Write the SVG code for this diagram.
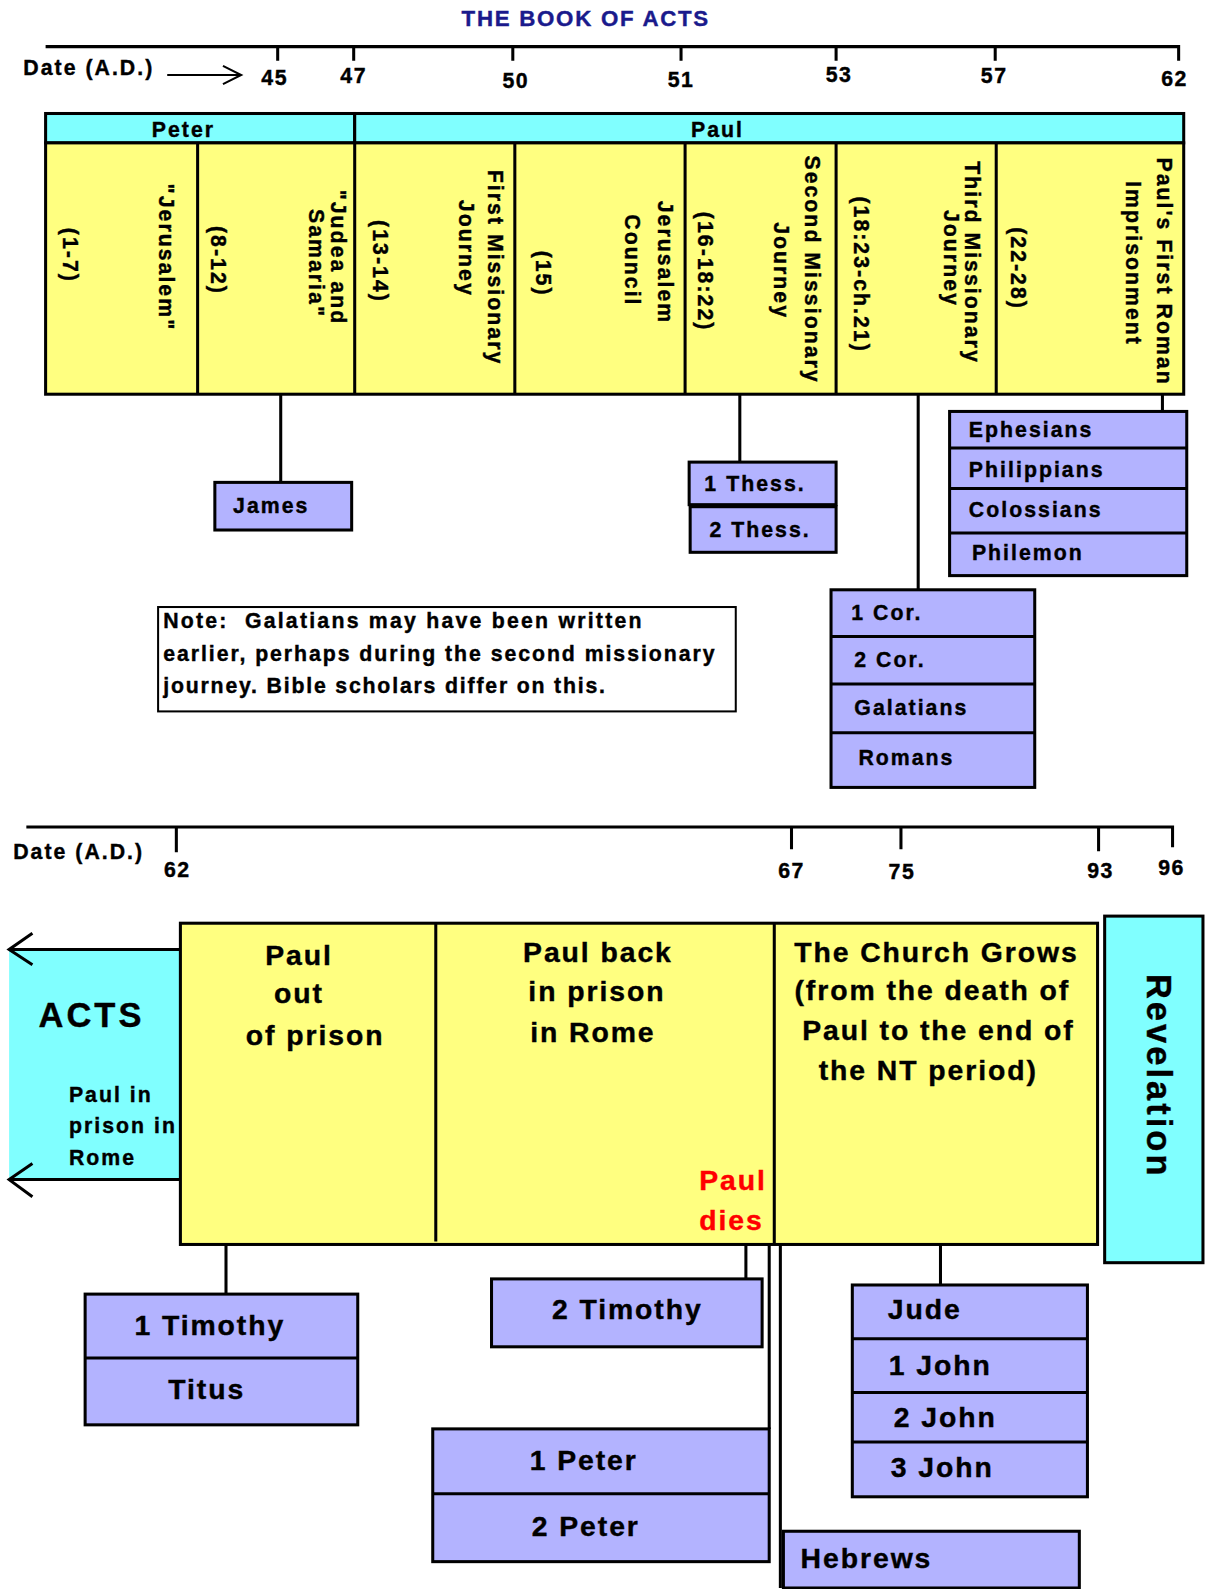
<svg xmlns="http://www.w3.org/2000/svg" width="1206" height="1589" viewBox="0 0 1206 1589">
<style>
text{font-family:"Liberation Sans",Arial,Helvetica,sans-serif;font-weight:bold;fill:#000;stroke:#000;stroke-width:0.4px}
.s{font-size:21px;letter-spacing:2px}
.n{font-size:21px;letter-spacing:1.5px;text-anchor:middle}
.v{font-size:21px;letter-spacing:2px;text-anchor:middle}
.b{font-size:28px;letter-spacing:1.9px}
.c{text-anchor:middle}
.red{fill:#ff0000;stroke:#ff0000}
.ln{stroke:#000;stroke-width:3;fill:none}
.yel{fill:#ffff80;stroke:#000;stroke-width:3}
.cy{fill:#80ffff;stroke:#000;stroke-width:3}
.bk{fill:#b3b3ff;stroke:#000;stroke-width:3}
.note{fill:#fff;stroke:#000;stroke-width:2}
</style>
<rect width="1206" height="1589" fill="#fff"/>
<g transform="scale(1.01345,1.0134)">
<g id="title"><text class="c" x="578" y="26" style="font-size:22px;letter-spacing:1.7px;fill:#1a1a8c;stroke:#1a1a8c">THE BOOK OF ACTS</text></g>

<g id="timeline-top">
<path class="ln" d="M45,46 H1163 V60 M274,46 V60 M349,46 V60 M506,46 V60 M672,46 V60 M825,46 V60 M982,46 V60"/>
<text class="s" x="23" y="74">Date (A.D.)</text>
<path class="ln" style="stroke-width:2" d="M165,74 H238 M220,65 L238,74 L220,83"/>
<text class="n" x="271" y="84">45</text>
<text class="n" x="349" y="82">47</text>
<text class="n" x="509" y="87">50</text>
<text class="n" x="672" y="86">51</text>
<text class="n" x="828" y="81">53</text>
<text class="n" x="981" y="82">57</text>
<text class="n" x="1159" y="85">62</text>
</g>

<g id="header-peter"><rect class="cy" x="45" y="112" width="305" height="29"/><text class="s c" x="181" y="135">Peter</text></g>
<g id="header-paul"><rect class="cy" x="350" y="112" width="818" height="29"/><text class="s c" x="708" y="135">Paul</text></g>

<g id="acts-periods">
<rect class="yel" x="45" y="141" width="1123" height="248"/>
<path class="ln" d="M195,141 V389 M350,141 V389 M508,141 V389 M676,141 V389 M825,141 V389 M983,141 V389"/>
</g>
<g id="col-jerusalem">
<text class="v" transform="translate(70,252) rotate(90)" dy="0.35em">(1-7)</text>
<text class="v" transform="translate(164,254) rotate(90)" dy="0.35em">"Jerusalem"</text>
</g>
<g id="col-judea">
<text class="v" transform="translate(216,257) rotate(90)" dy="0.35em">(8-12)</text>
<text class="v" transform="translate(334,254) rotate(90)" dy="0.35em">"Judea and</text>
<text class="v" transform="translate(312,260) rotate(90)" dy="0.35em">Samaria"</text>
</g>
<g id="col-first">
<text class="v" transform="translate(375,258) rotate(90)" dy="0.35em">(13-14)</text>
<text class="v" transform="translate(489,264) rotate(90)" dy="0.35em">First Missionary</text>
<text class="v" transform="translate(460,245) rotate(90)" dy="0.35em">Journey</text>
</g>
<g id="col-council">
<text class="v" transform="translate(536,270) rotate(90)" dy="0.35em">(15)</text>
<text class="v" transform="translate(657,259) rotate(90)" dy="0.35em">Jerusalem</text>
<text class="v" transform="translate(624,257) rotate(90)" dy="0.35em">Council</text>
</g>
<g id="col-second">
<text class="v" transform="translate(696,268) rotate(90)" dy="0.35em">(16-18:22)</text>
<text class="v" transform="translate(802,266) rotate(90)" dy="0.35em">Second Missionary</text>
<text class="v" transform="translate(771,267) rotate(90)" dy="0.35em">Journey</text>
</g>
<g id="col-third">
<text class="v" transform="translate(850,271) rotate(90)" dy="0.35em">(18:23-ch.21)</text>
<text class="v" transform="translate(960,259) rotate(90)" dy="0.35em">Third Missionary</text>
<text class="v" transform="translate(939,255) rotate(90)" dy="0.35em">Journey</text>
</g>
<g id="col-rome">
<text class="v" transform="translate(1005,265) rotate(90)" dy="0.35em">(22-28)</text>
<text class="v" transform="translate(1149,268) rotate(90)" dy="0.35em">Paul's First Roman</text>
<text class="v" transform="translate(1118,260) rotate(90)" dy="0.35em">Imprisonment</text>
</g>

<g id="connectors">
<path class="ln" d="M277,389 V476 M730,389 V456 M906,389 V582 M1147,389 V406"/>
<path class="ln" d="M223,1228 V1277 M736,1228 V1262 M759,1228 V1410 M770,1228 V1567 M928,1228 V1268"/>
</g>

<g id="james"><rect class="bk" x="212" y="476" width="135" height="47"/><text class="s" x="230" y="506">James</text></g>
<g id="thess">
<rect class="bk" x="680" y="456" width="145" height="42"/><text class="s" x="695" y="485">1 Thess.</text>
<rect class="bk" x="681" y="500" width="144" height="45"/><text class="s" x="700" y="530">2 Thess.</text>
</g>
<g id="corinthians">
<rect class="bk" x="820" y="582" width="201" height="195"/>
<path class="ln" d="M820,628 H1021 M820,675 H1021 M820,723 H1021"/>
<text class="s" x="840" y="612">1 Cor.</text>
<text class="s" x="843" y="658">2 Cor.</text>
<text class="s" x="843" y="706">Galatians</text>
<text class="s" x="847" y="755">Romans</text>
</g>
<g id="prison-letters">
<rect class="bk" x="937" y="406" width="234" height="162"/>
<path class="ln" d="M937,442 H1171 M937,482 H1171 M937,526 H1171"/>
<text class="s" x="956" y="431">Ephesians</text>
<text class="s" x="956" y="471">Philippians</text>
<text class="s" x="956" y="510">Colossians</text>
<text class="s" x="959" y="553">Philemon</text>
</g>
<g id="note">
<rect class="note" x="156" y="599" width="570" height="103"/>
<text class="s" x="161" y="620" xml:space="preserve" textLength="474" lengthAdjust="spacing">Note:  Galatians may have been written</text>
<text class="s" x="161" y="652" textLength="546" lengthAdjust="spacing">earlier, perhaps during the second missionary</text>
<text class="s" x="161" y="684" textLength="438" lengthAdjust="spacing">journey. Bible scholars differ on this.</text>
</g>

<g id="timeline-bottom">
<path class="ln" d="M26,816 H1157 V836 M174,817 V841 M781,817 V838 M889,817 V838 M1084,817 V840"/>
<text class="s" x="13" y="848">Date (A.D.)</text>
<text class="n" x="175" y="865">62</text>
<text class="n" x="781" y="866">67</text>
<text class="n" x="890" y="867">75</text>
<text class="n" x="1086" y="866">93</text>
<text class="n" x="1156" y="863">96</text>
</g>

<g id="acts-left">
<rect x="9" y="937" width="170" height="227" fill="#80ffff"/>
<path class="ln" d="M9,937 H179 M9,1164 H179 M32,921 L9,937 L32,952 M32,1148 L9,1164 L32,1181"/>
<text x="38" y="1013" style="font-size:34px;letter-spacing:3px">ACTS</text>
<text class="s" x="68" y="1087">Paul in</text>
<text class="s" x="68" y="1118">prison in</text>
<text class="s" x="68" y="1150">Rome</text>
</g>

<g id="later-periods">
<rect class="yel" x="178" y="911" width="905" height="317"/>
<path class="ln" d="M430,911 V1225 M764,911 V1228"/>
</g>
<g id="out-of-prison">
<text class="b c" x="295" y="952">Paul</text>
<text class="b c" x="295" y="990">out</text>
<text class="b c" x="311" y="1031">of prison</text>
</g>
<g id="back-in-prison">
<text class="b c" x="590" y="949">Paul back</text>
<text class="b c" x="589" y="988">in prison</text>
<text class="b c" x="585" y="1028">in Rome</text>
<text class="b red" x="690" y="1174">Paul</text>
<text class="b red" x="690" y="1214">dies</text>
</g>
<g id="church-grows">
<text class="b c" x="924" y="949">The Church Grows</text>
<text class="b c" x="920" y="987">(from the death of</text>
<text class="b c" x="926" y="1026">Paul to the end of</text>
<text class="b c" x="916" y="1066">the NT period)</text>
</g>
<g id="revelation">
<rect class="cy" x="1090" y="904" width="97" height="342"/>
<text class="c" transform="translate(1144,1062) rotate(90)" dy="0.35em" style="font-size:34px;letter-spacing:3px">Revelation</text>
</g>

<g id="timothy-titus">
<rect class="bk" x="84" y="1277" width="269" height="129"/>
<path class="ln" d="M84,1340 H353"/>
<text class="b c" x="207" y="1317">1 Timothy</text>
<text class="b c" x="204" y="1381">Titus</text>
</g>
<g id="timothy2">
<rect class="bk" x="485" y="1262" width="267" height="67"/>
<text class="b c" x="619" y="1302">2 Timothy</text>
</g>
<g id="peter-letters">
<rect class="bk" x="427" y="1410" width="332" height="131"/>
<path class="ln" d="M427,1474 H759"/>
<text class="b c" x="576" y="1451">1 Peter</text>
<text class="b c" x="578" y="1516">2 Peter</text>
</g>
<g id="hebrews">
<rect class="bk" x="773" y="1511" width="292" height="56"/>
<text class="b" x="790" y="1547">Hebrews</text>
</g>
<g id="general-letters">
<rect class="bk" x="841" y="1268" width="232" height="209"/>
<path class="ln" d="M841,1321 H1073 M841,1374 H1073 M841,1423 H1073"/>
<text class="b" x="876" y="1302">Jude</text>
<text class="b" x="877" y="1357">1 John</text>
<text class="b" x="882" y="1408">2 John</text>
<text class="b" x="879" y="1457">3 John</text>
</g>
</g>
</svg>
